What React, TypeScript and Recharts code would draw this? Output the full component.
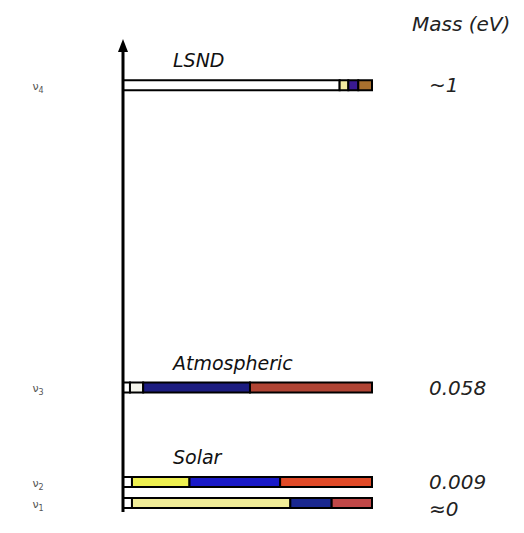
import React from 'react';
import { BarChart, Bar, XAxis, YAxis, Cell, LabelList, ReferenceDot } from 'recharts';

// rows from top to bottom
const states = ['4', '3', '2', '1'];
const levels = [19.9, 5.5, 1, 0]; // schematic height of each mass state
const masses = ['~1', '0.058', '0.009', '≈0'];
const groups = ['LSND', 'Atmospheric', 'Solar', ''];

// flavour content of each state (fraction of the bar)
const sterile = [0.87, 0.028, 0.036, 0.036];
const electron = [0.035, 0.053, 0.231, 0.636];
const muon = [0.04, 0.429, 0.364, 0.166];
const tau = [0.055, 0.49, 0.369, 0.162];

const sterileColors = ['#ffffff', '#ffffff', '#ffffff', '#ffffff'];
const electronColors = ['#f3eaa0', '#f4f4ec', '#eef050', '#f0ec98'];
const muonColors = ['#3a1a90', '#1c1c80', '#1a1ac8', '#1a2890'];
const tauColors = ['#a8702e', '#b04434', '#e04a28', '#c04848'];

const data = states.map((s, i) => ({
  state: s,
  level: levels[i],
  mass: masses[i],
  group: groups[i],
  sterile: sterile[i],
  electron: electron[i],
  muon: muon[i],
  tau: tau[i],
}));

const FONT = '"DejaVu Sans", Verdana, sans-serif';

const StateTick = (props: any) => {
  const { x, y, payload } = props;
  const i = levels.indexOf(payload.value);
  if (i < 0) return null;
  return (
    <text x={x} y={y} dy={5} textAnchor="middle" fontSize={11} fill="#555" fontFamily={FONT}>
      ν<tspan fontSize={8} dy={3}>{states[i]}</tspan>
    </text>
  );
};

const MassLabel = (props: any) => {
  const { x, y, width, height, value, index } = props;
  // the lowest state's label sits a little below its bar so it clears the one above
  const shift = index === masses.length - 1 ? 6 : 0;
  return (
    <text x={x + width + 57} y={y + height / 2 + shift} dy={7} textAnchor="start" fontSize={20} fontStyle="italic" fill="#222" fontFamily={FONT}>
      {value}
    </text>
  );
};

const GroupLabel = (props: any) => {
  const { x, y, value } = props;
  if (!value) return null;
  return (
    <text x={x + 50} y={y - 13} fontSize={19} fontStyle="italic" fill="#111" fontFamily={FONT}>
      {value}
    </text>
  );
};

const Arrow = (props: any) => {
  const { cx, cy } = props;
  return <polygon points={`${cx - 5},${cy + 2} ${cx + 5},${cy + 2} ${cx},${cy - 11}`} fill="#000" />;
};

const domain: [number, number] = [-0.45, 21.55];

export default function App() {
  return (
    <div style={{ position: 'relative', width: 516, height: 525 }}>
      <div
        style={{
          position: 'absolute',
          left: 404,
          top: 4,
          fontFamily: FONT,
          fontStyle: 'italic',
          fontSize: 20,
          color: '#222',
          whiteSpace: 'nowrap',
        }}
      >
        Mass (eV)
      </div>
      <BarChart
        width={516}
        height={525}
        data={data}
        layout="vertical"
        margin={{ top: 42, right: 152, bottom: 21, left: 0 }}
      >
        <XAxis type="number" domain={[0, 1]} hide />
        <YAxis
          type="number"
          dataKey="level"
          domain={domain}
          ticks={levels}
          interval={0}
          reversed
          width={115}
          axisLine={{ stroke: '#000', strokeWidth: 3 }}
          tickLine={false}
          tickSize={0}
          tickMargin={85}
          tick={<StateTick />}
          allowDataOverflow
        />
        <Bar dataKey="sterile" stackId="f" barSize={10} stroke="#000" strokeWidth={2} isAnimationActive={false}>
          {data.map((d, i) => <Cell key={d.state} fill={sterileColors[i]} />)}
          <LabelList dataKey="group" content={<GroupLabel />} />
        </Bar>
        <Bar dataKey="electron" stackId="f" barSize={10} stroke="#000" strokeWidth={2} isAnimationActive={false}>
          {data.map((d, i) => <Cell key={d.state} fill={electronColors[i]} />)}
        </Bar>
        <Bar dataKey="muon" stackId="f" barSize={10} stroke="#000" strokeWidth={2} isAnimationActive={false}>
          {data.map((d, i) => <Cell key={d.state} fill={muonColors[i]} />)}
        </Bar>
        <Bar dataKey="tau" stackId="f" barSize={10} stroke="#000" strokeWidth={2} isAnimationActive={false}>
          {data.map((d, i) => <Cell key={d.state} fill={tauColors[i]} />)}
          <LabelList dataKey="mass" content={<MassLabel />} />
        </Bar>
        <ReferenceDot x={0} y={domain[1]} ifOverflow="visible" shape={<Arrow />} />
      </BarChart>
    </div>
  );
}
